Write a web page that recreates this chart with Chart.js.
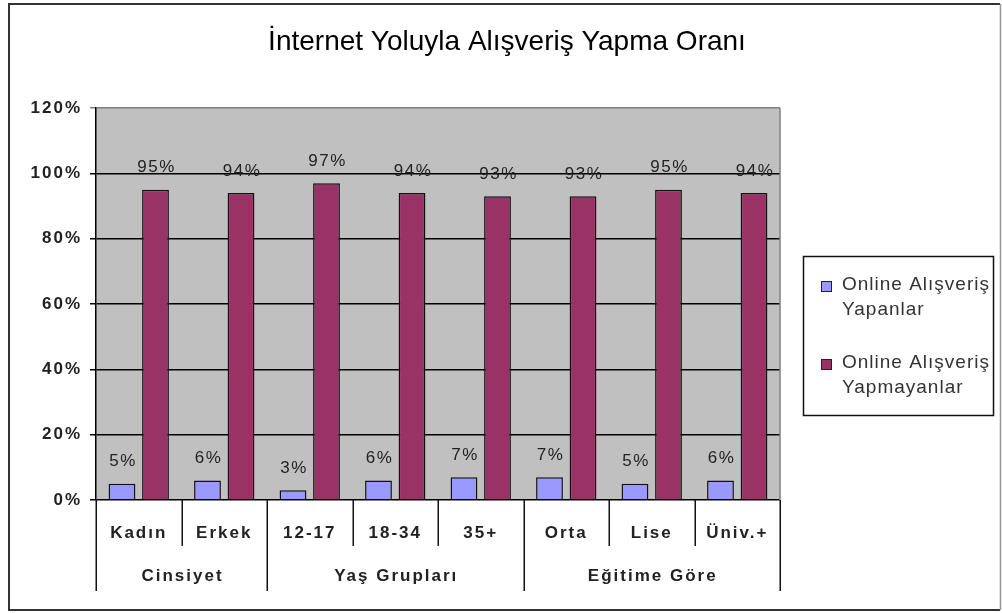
<!DOCTYPE html>
<html>
<head>
<meta charset="utf-8">
<title>İnternet Yoluyla Alışveriş Yapma Oranı</title>
<script src="https://cdn.jsdelivr.net/npm/chart.js@4/dist/chart.umd.min.js"></script>
<style>
  html, body { margin: 0; padding: 0; background: #fff; }
  canvas { display: block; }
</style>
</head>
<body>
<canvas id="chart" width="1002" height="613"></canvas>
<script>
// Chart content
const titleText = 'İnternet Yoluyla Alışveriş Yapma Oranı';
const categories = ['Kadın', 'Erkek', '12-17', '18-34', '35+', 'Orta', 'Lise', 'Üniv.+'];
const groupNames = ['Cinsiyet', 'Yaş Grupları', 'Eğitime Göre'];
const groupSizes = [2, 3, 3];
const buyers = [5, 6, 3, 6, 7, 7, 5, 6];
const nonBuyers = [95, 94, 97, 94, 93, 93, 95, 94];
const seriesNames = [['Online Alışveriş', 'Yapanlar'], ['Online Alışveriş', 'Yapmayanlar']];
const yTickValues = [0, 20, 40, 60, 80, 100, 120];

const seriesColors = ['#9999FF', '#993366'];
const TEXT = '#222222';

// Gray plot background
const plotBackground = {
  id: 'plotBackground',
  beforeDraw(chart) {
    const { ctx, chartArea: a } = chart;
    ctx.save();
    ctx.fillStyle = '#C0C0C0';
    ctx.fillRect(a.left, a.top, a.right - a.left, a.bottom - a.top);
    ctx.restore();
    ctx.letterSpacing = '2px';
  }
};

// Value labels above each bar
const valueLabels = {
  id: 'valueLabels',
  afterDatasetsDraw(chart) {
    const { ctx } = chart;
    ctx.save();
    ctx.letterSpacing = '1.5px';
    ctx.font = '17px "Liberation Sans", Arial, sans-serif';
    ctx.fillStyle = TEXT;
    ctx.textAlign = 'center';
    ctx.textBaseline = 'middle';
    chart.data.datasets.forEach((ds, di) => {
      chart.getDatasetMeta(di).data.forEach((bar, i) => {
        ctx.fillText(ds.data[i] + '%', bar.x + 1, bar.y - 22);
      });
    });
    ctx.restore();
  }
};

// Title, frame, grouped category axis and legend box
const decorations = {
  id: 'decorations',
  afterDraw(chart) {
    const { ctx, chartArea: a } = chart;
    const x = chart.scales.x;
    ctx.save();
    ctx.letterSpacing = '0px';

    // outer frame
    ctx.strokeStyle = '#333';
    ctx.lineWidth = 2;
    ctx.beginPath();
    ctx.moveTo(1000, 4); ctx.lineTo(9, 4); ctx.lineTo(9, 610); ctx.lineTo(1000, 610);
    ctx.stroke();
    ctx.strokeStyle = '#999';
    ctx.lineWidth = 1.5;
    ctx.beginPath();
    ctx.moveTo(1000.5, 4); ctx.lineTo(1000.5, 610);
    ctx.stroke();

    // title
    ctx.fillStyle = '#000';
    ctx.font = '28px "Liberation Sans", Arial, sans-serif';
    ctx.textAlign = 'center';
    ctx.textBaseline = 'middle';
    ctx.fillText(titleText, 507, 42);

    // plot right border
    ctx.strokeStyle = '#808080';
    ctx.lineWidth = 1.5;
    ctx.beginPath();
    ctx.moveTo(a.right, a.top); ctx.lineTo(a.right, a.bottom);
    ctx.stroke();

    // category separators and group labels
    const n = categories.length;
    const edges = [];
    for (let i = 0; i <= n; i++) {
      if (i === 0) edges.push(a.left);
      else if (i === n) edges.push(a.right);
      else edges.push((x.getPixelForValue(i - 1) + x.getPixelForValue(i)) / 2);
    }
    const groupEdges = [0];
    groupSizes.forEach(s => groupEdges.push(groupEdges[groupEdges.length - 1] + s));
    ctx.strokeStyle = '#111';
    ctx.lineWidth = 1.5;
    edges.forEach((ex, i) => {
      const isGroup = groupEdges.includes(i);
      ctx.beginPath();
      ctx.moveTo(Math.round(ex) + 0.25, a.bottom);
      ctx.lineTo(Math.round(ex) + 0.25, isGroup ? 591 : 546);
      ctx.stroke();
    });
    ctx.letterSpacing = '2px';
    ctx.font = 'bold 17px "Liberation Sans", Arial, sans-serif';
    ctx.fillStyle = TEXT;
    groupNames.forEach((g, gi) => {
      const cx = (edges[groupEdges[gi]] + edges[groupEdges[gi + 1]]) / 2;
      ctx.fillText(g, cx + 1, 576);
    });

    // legend
    ctx.letterSpacing = '1px';
    ctx.strokeStyle = '#111';
    ctx.lineWidth = 1.5;
    ctx.strokeRect(803.5, 256.5, 190, 159);
    ctx.font = '19px "Liberation Sans", Arial, sans-serif';
    ctx.textAlign = 'left';
    const itemTops = [285, 363];
    chart.data.datasets.forEach((ds, di) => {
      const y0 = itemTops[di];
      ctx.fillStyle = ds.backgroundColor;
      ctx.fillRect(821, y0 - 4, 11, 11);
      ctx.strokeStyle = '#222';
      ctx.lineWidth = 1;
      ctx.strokeRect(821.5, y0 - 3.5, 10, 10);
      ctx.fillStyle = '#333';
      seriesNames[di].forEach((line, li) => {
        ctx.fillText(line, 842, y0 + li * 25);
      });
    });
    ctx.restore();
  }
};

new Chart(document.getElementById('chart'), {
  type: 'bar',
  data: {
    labels: categories,
    datasets: [
      {
        label: seriesNames[0].join(' '),
        data: buyers,
        backgroundColor: seriesColors[0],
        borderColor: '#111',
        borderWidth: 1.5
      },
      {
        label: seriesNames[1].join(' '),
        data: nonBuyers,
        backgroundColor: seriesColors[1],
        borderColor: '#111',
        borderWidth: 1.5
      }
    ]
  },
  options: {
    responsive: false,
    animation: false,
    devicePixelRatio: 1,
    categoryPercentage: 0.784,
    barPercentage: 0.8,
    layout: { padding: { left: 16, top: 108, right: 222, bottom: 53 } },
    plugins: {
      legend: { display: false },
      title: { display: false },
      tooltip: { enabled: false }
    },
    scales: {
      x: {
        offset: true,
        grid: { display: false, drawTicks: false, tickLength: 0 },
        border: { display: false },
        ticks: {
          padding: 23,
          color: TEXT,
          font: { family: '"Liberation Sans", Arial, sans-serif', size: 17, weight: 'bold' },
          maxRotation: 0,
          autoSkip: false
        },
        afterFit(scale) { scale.height = 60; }
      },
      y: {
        min: 0,
        max: 120,
        afterBuildTicks(scale) { scale.ticks = yTickValues.map(v => ({ value: v })); },
        grid: {
          color: (c) => (c.tick && c.tick.value === 120 ? '#808080' : '#000'),
          lineWidth: 1.5,
          tickLength: 6,
          drawTicks: true
        },
        border: { display: true, color: '#000', width: 1.5 },
        ticks: {
          padding: 8,
          color: TEXT,
          font: { family: '"Liberation Sans", Arial, sans-serif', size: 17, weight: 'bold' },
          callback: (v) => v + '%'
        },
        afterFit(scale) { scale.width = 80; }
      }
    }
  },
  plugins: [plotBackground, valueLabels, decorations]
});
</script>
</body>
</html>
